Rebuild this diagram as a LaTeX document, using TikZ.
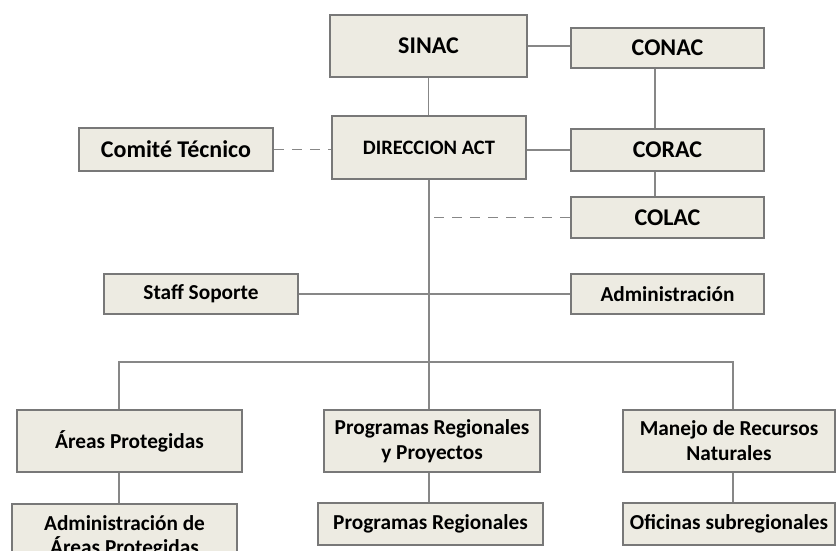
\documentclass[tikz,border=0pt]{standalone}
\usepackage{fontspec}
\setmainfont{Carlito}
\definecolor{boxfill}{RGB}{237,235,226}
\definecolor{boxline}{RGB}{120,120,120}
\definecolor{conn}{RGB}{135,135,135}
\begin{document}
\begin{tikzpicture}[x=1pt,y=-1pt,
  box/.style={draw=boxline,fill=boxfill,line width=2pt,rectangle,inner sep=0pt,align=center,font=\bfseries},
  big/.style={font=\fontsize{24}{27}\selectfont\bfseries},
  mid/.style={font=\fontsize{21.3}{25}\selectfont\bfseries},
  small/.style={font=\fontsize{20.5}{24}\selectfont\bfseries},
  link/.style={draw=conn,line width=1.6pt},
  dlink/.style={draw=conn,line width=1.6pt,dash pattern=on 10pt off 8pt}]
\useasboundingbox (0,0) rectangle (838,551);
\clip (0,0) rectangle (838,551);
\node[box,big,minimum width=197pt,minimum height=62pt] (sinac) at (428.5,46) {SINAC};
\node[box,big,minimum width=193pt,minimum height=40pt] (conac) at (667.5,48) {CONAC};
\node[box,small,minimum width=194pt,minimum height=63pt] (dir) at (429,147.5) {DIRECCION ACT};
\node[box,big,minimum width=194pt,minimum height=43pt] (comite) at (176,149.5) {Comité Técnico};
\node[box,big,minimum width=193pt,minimum height=42pt] (corac) at (667.5,150) {CORAC};
\node[box,big,minimum width=193pt,minimum height=41pt] (colac) at (667.5,217.5) {COLAC};
\node[box,mid,minimum width=194pt,minimum height=40pt] (staff) at (201,294) {Staff Soporte};
\node[box,mid,minimum width=193pt,minimum height=40pt] (admin) at (667.5,294) {Administración};
\node[box,mid,minimum width=225pt,minimum height=62pt] (areas) at (129.5,441) {Áreas Protegidas};
\node[box,mid,minimum width=225pt,minimum height=66pt,anchor=north,font=\fontsize{21.3}{24}\selectfont\bfseries] (adminareas) at (124.5,503) {Administración de\\Áreas Protegidas};
\node[box,mid,minimum width=216pt,minimum height=62pt] (prp) at (432,441) {Programas Regionales\\y Proyectos};
\node[box,mid,minimum width=225pt,minimum height=42pt] (pr) at (430.5,524) {Programas Regionales};
\node[box,mid,minimum width=212pt,minimum height=62pt] (manejo) at (729,441) {Manejo de Recursos\\Naturales};
\node[box,mid,minimum width=212pt,minimum height=42pt] (ofi) at (729,524) {Oficinas subregionales};
\coordinate (bl) at (119,362);
\coordinate (br) at (733,362);
\coordinate (cx) at (655,0);
\draw[link] (sinac.east) -- (sinac.east -| conac.west);
\draw[link] (sinac.south) -- (sinac.south |- dir.north);
\draw[link] (corac.west) -- (corac.west -| dir.east);
\draw[dlink] (comite.east) -- (comite.east -| dir.west);
\draw[link] (conac.south -| cx) -- (corac.north -| cx);
\draw[link] (corac.south -| cx) -- (colac.north -| cx);
\draw[link] (dir.south) -- (dir.south |- prp.north);
\draw[dlink] (dir.south |- colac.west) ++(5,0) -- (colac.west);
\draw[link] (staff.east) -- (admin.west);
\draw[link] (areas.north -| bl) -- (bl) -- (br) -- (manejo.north -| br);
\draw[link] (areas.south -| bl) -- (adminareas.north -| bl);
\draw[link] (prp.south -| dir.south) -- (pr.north -| dir.south);
\draw[link] (manejo.south -| br) -- (ofi.north -| br);
\end{tikzpicture}
\end{document}
